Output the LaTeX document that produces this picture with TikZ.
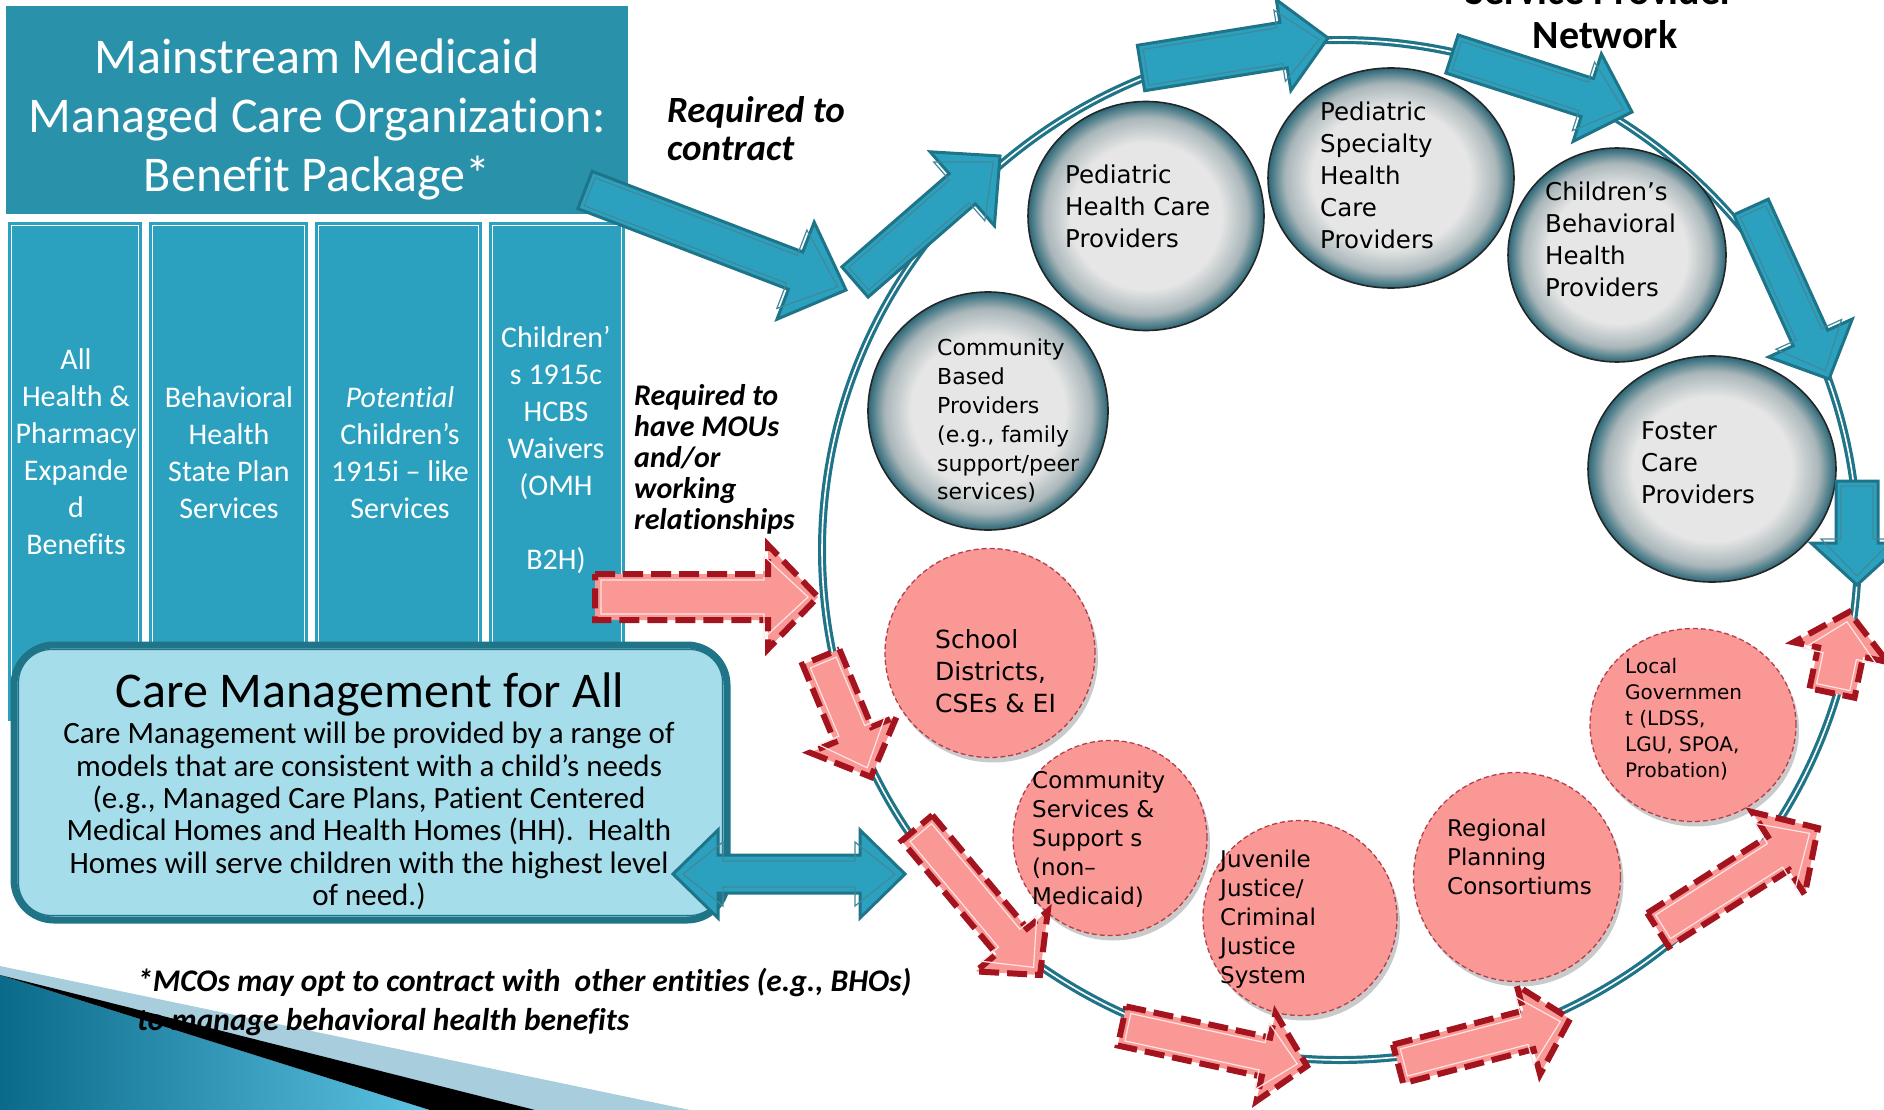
\documentclass[tikz,border=0pt]{standalone}
\usepackage{fontspec}
\setmainfont{Carlito}[Ligatures=NoCommon]
\newfontfamily\circfont{DejaVu Sans}
\usetikzlibrary{calc,shadows,shapes.geometric}
\definecolor{titleteal}{HTML}{2A91AB}
\definecolor{colteal}{HTML}{2CA1BF}
\definecolor{darkteal}{HTML}{1F7488}
\definecolor{arrowteal}{HTML}{2BA1BF}
\definecolor{lightblue}{HTML}{A6DDEA}
\definecolor{pinkfill}{HTML}{FA9896}
\definecolor{darkred}{HTML}{A3141F}
\definecolor{circred}{HTML}{B2404A}
\definecolor{ballin}{HTML}{E6E6E6}
\definecolor{ballmid}{HTML}{A9B6B9}
\definecolor{ballrim}{HTML}{2A6777}
\definecolor{decodark}{HTML}{0B6A8A}
\definecolor{decomid}{HTML}{5CC3E3}
\definecolor{decolight}{HTML}{A8CDDD}
\pgfdeclareradialshading{ballshade}{\pgfpoint{0bp}{0bp}}{color(0bp)=(ballin); color(16bp)=(ballin); color(21.5bp)=(ballmid); color(25bp)=(ballrim); color(50bp)=(ballrim)}
\newcommand\blockarrow[6]{%
  \coordinate (ba-b) at ($(#3)!#6!(#2)$);
  \draw[#1] ($(#2)!#4!90:(#3)$) -- ($(ba-b)!#4!-90:(#2)$) -- ($(ba-b)!#5!-90:(#2)$) -- (#3) -- ($(ba-b)!#5!90:(#2)$) -- ($(ba-b)!#4!90:(#2)$) -- ($(#2)!#4!-90:(#3)$) -- cycle;}
\newcommand\tealarrow[6]{%
  \coordinate (#1-t) at #2; \coordinate (#1-p) at #3;
  \blockarrow{tealout}{#1-t}{#1-p}{#4pt}{#5pt}{#6pt}
  \coordinate (#1-ti) at ($(#1-t)!5pt!(#1-p)$);
  \coordinate (#1-pi) at ($(#1-p)!9pt!(#1-t)$);
  \pgfmathsetmacro\bas{#4-5}\pgfmathsetmacro\bah{#5-10}\pgfmathsetmacro\bal{#6-5}
  \blockarrow{tealin}{#1-ti}{#1-pi}{\bas pt}{\bah pt}{\bal pt}}
\newcommand\pinkarrow[6]{%
  \coordinate (#1-t) at #2; \coordinate (#1-p) at #3;
  \blockarrow{pinkout}{#1-t}{#1-p}{#4pt}{#5pt}{#6pt}
  \coordinate (#1-ti) at ($(#1-t)!6pt!(#1-p)$);
  \coordinate (#1-pi) at ($(#1-p)!10pt!(#1-t)$);
  \pgfmathsetmacro\bas{#4-6}\pgfmathsetmacro\bah{#5-11}\pgfmathsetmacro\bal{#6-6}
  \blockarrow{pinkin}{#1-ti}{#1-pi}{\bas pt}{\bah pt}{\bal pt}}
\begin{document}
\begin{tikzpicture}[x=1pt,y=-1pt,
  tealout/.style={fill=arrowteal, draw=darkteal, line width=3pt, line join=miter},
  tealin/.style={draw=darkteal!85, line width=1.2pt, line join=miter},
  pinkout/.style={fill=pinkfill, draw=darkred, line width=6pt, dash pattern=on 20pt off 8pt, line join=miter},
  pinkin/.style={draw=white!75!pinkfill, line width=1.2pt, line join=miter},
  colbox/.style={fill=colteal, draw=none, inner sep=0pt},
  graycirc/.style={ellipse, shading=ballshade, draw=black!85, line width=1.6pt, inner sep=0pt},
  pinkcirc/.style={ellipse, fill=pinkfill, draw=circred, line width=1.3pt, dash pattern=on 5pt off 3pt, inner sep=0pt, drop shadow={shadow xshift=3pt, shadow yshift=-5pt, opacity=0.35, fill=black!60}},
  coltext/.style={text=white, font=\fontsize{30pt}{37pt}\selectfont, align=center, inner sep=0pt},
  gtext/.style={font=\circfont\fontsize{24.5pt}{32pt}\selectfont, align=left, anchor=west, inner sep=0pt},
  ptext/.style={font=\circfont\fontsize{23pt}{29pt}\selectfont, align=left, anchor=west, inner sep=0pt},
  itext/.style={font=\bfseries\itshape\fontsize{30pt}{31pt}\selectfont, align=left, anchor=west, inner sep=0pt}]
\useasboundingbox (0,0) rectangle (1884,1110);
\clip (0,0) rectangle (1884,1110);
% bottom-left decoration
\fill[decolight] (0,966) -- (690,1110) -- (0,1110) -- cycle;
\shade[left color=decodark, right color=decomid] (0,975) -- (430,1110) -- (0,1110) -- cycle;
\fill[black] (40,985) -- (535,1110) -- (430,1110) -- (0,975) -- cycle;
% title box
\node[fill=titleteal, inner sep=0pt, minimum width=622pt, minimum height=208pt] (titlebox) at (317,110) {};
% columns
\node[colbox, minimum width=134pt, minimum height=499pt] (col1) at (75,471.5) {};
\node[colbox, minimum width=159pt, minimum height=458pt] (col2) at (228.5,451) {};
\node[colbox, minimum width=167pt, minimum height=458pt] (col3) at (398.5,451) {};
\node[colbox, minimum width=136pt, minimum height=458pt] (col4) at (557,451) {};
\foreach \c in {col1,col2,col3,col4}
  \draw[white, line width=1.3pt] ($(\c.north west)+(4,4)$) rectangle ($(\c.south east)+(-4,-4)$);
% care box
\node[fill=lightblue, draw=darkteal, line width=7pt, rounded corners=40pt, inner sep=0pt, minimum width=713pt, minimum height=275pt] (care) at (370.5,782.5) {};
\draw[darkteal, line width=1.2pt, rounded corners=33pt] ($(care.north west)+(8,8)$) rectangle ($(care.south east)+(-8,-8)$);
% ring
\coordinate (ringc) at (1340,550);
\draw[darkteal, line width=3.2pt, double=white, double distance=1.6pt] (ringc) ellipse [x radius=518pt, y radius=510pt];
% gray circles
\node[graycirc, minimum width=236pt, minimum height=229pt] (g1) at (1146,216) {};
\node[graycirc, minimum width=246pt, minimum height=220pt] (g2) at (1391,178) {};
\node[graycirc, minimum width=218pt, minimum height=214pt] (g3) at (1617,255) {};
\node[graycirc, minimum width=248pt, minimum height=226pt] (g4) at (1712,469) {};
\node[graycirc, minimum width=240pt, minimum height=238pt] (g5) at (988,411) {};
% pink circles
\node[pinkcirc, minimum width=210pt, minimum height=209pt] (s1) at (990,653) {};
\node[pinkcirc, minimum width=194pt, minimum height=195pt] (s2) at (1110,838) {};
\node[pinkcirc, minimum width=194pt, minimum height=195pt] (s3) at (1300,918) {};
\node[pinkcirc, minimum width=207pt, minimum height=209pt] (s4) at (1517,877) {};
\node[pinkcirc, minimum width=206pt, minimum height=193pt] (s5) at (1693,725) {};
% teal arrows along the ring
\tealarrow{ta}{(585,190)}{(846,290)}{20}{52}{54}
\tealarrow{tb}{(855,282)}{(1000,156)}{20}{49}{50}
\tealarrow{tc}{(1141,68)}{(1328,38)}{23}{46}{45}
\tealarrow{td}{(1452,54)}{(1632,112)}{20}{46}{47}
\tealarrow{te}{(1751,207)}{(1829,379)}{19}{46}{45}
\tealarrow{tf}{(1857,481)}{(1857,585)}{21}{46}{42}
% pink dashed arrows
\pinkarrow{pa}{(595,597)}{(818,597)}{23}{52}{50}
\pinkarrow{pb}{(821,657)}{(871,777)}{20}{47}{46}
\pinkarrow{pc}{(917,828)}{(1040,975)}{20}{47}{44}
\pinkarrow{pd}{(1122,1026)}{(1307,1066)}{20}{45}{42}
\pinkarrow{pe}{(1398,1064)}{(1570,1019)}{20}{46}{43}
\pinkarrow{pf}{(1658,930)}{(1818,828)}{20}{49}{47}
\pinkarrow{pg}{(1832,693)}{(1849,612)}{23}{48}{41}
% double teal arrow
\coordinate (dl) at (673,874); \coordinate (dr) at (905,874);
\draw[tealout] (dl) -- (718,830) -- (718,855) -- (860,855) -- (860,830) -- (dr) -- (860,918) -- (860,893) -- (718,893) -- (718,918) -- cycle;
\draw[tealin] ($(dl)+(10,0)$) -- (723,842) -- (723,861) -- (855,861) -- (855,842) -- ($(dr)+(-10,0)$) -- (855,906) -- (855,887) -- (723,887) -- (723,906) -- cycle;
% texts
\node[text=white, font=\fontsize{50pt}{59pt}\selectfont, align=center, inner sep=0pt] (titletext) at (317,119) {Mainstream Medicaid\\Managed Care Organization:\\Benefit Package*};
\node[coltext] (c1t) at (76,452) {All\\Health \&\\Pharmacy\\Expande\\d\\Benefits};
\node[coltext] (c2t) at (229,453) {Behavioral\\Health\\State Plan\\Services};
\node[coltext] (c3t) at (400,453) {\textit{Potential}\\Children’s\\1915i – like\\Services};
\node[coltext] (c4t) at (556,450) {Children’\\s 1915c\\HCBS\\Waivers\\(OMH\\\mbox{}\\B2H)};
\node[font=\fontsize{50pt}{56pt}\selectfont, inner sep=0pt] (caretitle) at (370,694) {Care Management for All};
\node[font=\fontsize{31pt}{32.3pt}\selectfont, align=center, inner sep=0pt] (carebody) at (369,816) {Care Management will be provided by a range of\\models that are consistent with a child’s needs\\(e.g., Managed Care Plans, Patient Centered\\Medical Homes and Health Homes (HH).~ Health\\Homes will serve children with the highest level\\of need.)};
\node[itext, font=\bfseries\itshape\fontsize{37pt}{38pt}\selectfont] (reqc) at (667,129) {Required to\\contract};
\node[itext] (reqm) at (634,459) {Required to\\have MOUs\\and/or\\working\\relationships};
\node[itext, font=\bfseries\itshape\fontsize{31.5pt}{39pt}\selectfont] (foot) at (137,1002) {*MCOs may opt to contract with~ other entities (e.g., BHOs)\\to manage behavioral health benefits};
\node[font=\bfseries\fontsize{40pt}{44pt}\selectfont, inner sep=0pt] (spn1) at (1600,-9) {Service Provider};
\node[font=\bfseries\fontsize{40pt}{44pt}\selectfont, inner sep=0pt] (spn2) at (1605,35) {Network};
\node[gtext] (g1t) at (1065,206) {Pediatric\\Health Care\\Providers};
\node[gtext] (g2t) at (1320,175) {Pediatric\\Specialty\\Health\\Care\\Providers};
\node[gtext] (g3t) at (1545,239) {Children’s\\Behavioral\\Health\\Providers};
\node[gtext] (g4t) at (1641,463) {Foster\\Care\\Providers};
\node[gtext, font=\circfont\fontsize{22pt}{28.8pt}\selectfont] (g5t) at (937,421) {Community\\Based\\Providers\\(e.g., family\\support/peer\\services)};
\node[ptext, font=\circfont\fontsize{25pt}{32pt}\selectfont] (s1t) at (935,671) {School\\Districts,\\CSEs \& EI};
\node[ptext] (s2t) at (1032,839) {Community\\Services \&\\Support s\\(non–\\Medicaid)};
\node[ptext] (s3t) at (1220,919) {Juvenile\\Justice/\\Criminal\\Justice\\System};
\node[ptext] (s4t) at (1447,857) {Regional\\Planning\\Consortiums};
\node[ptext, font=\circfont\fontsize{20pt}{26pt}\selectfont] (s5t) at (1625,719) {Local\\Governmen\\t (LDSS,\\LGU, SPOA,\\Probation)};
\end{tikzpicture}
\end{document}
